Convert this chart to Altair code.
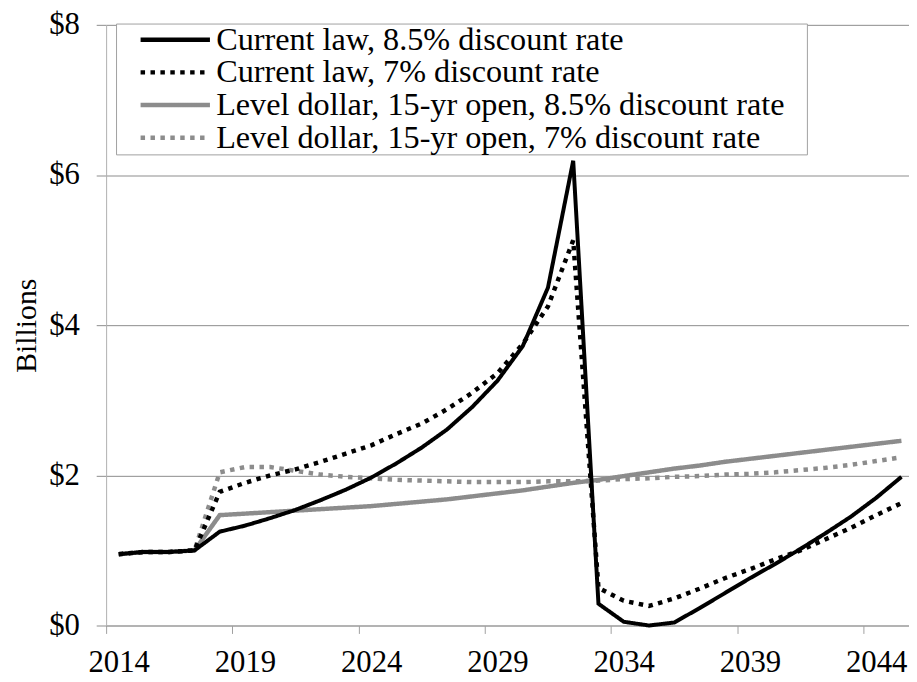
import altair as alt
import pandas as pd

years = list(range(2014, 2046))

series_names = [
    "Current law, 8.5% discount rate",
    "Current law, 7% discount rate",
    "Level dollar, 15-yr open, 8.5% discount rate",
    "Level dollar, 15-yr open, 7% discount rate",
]

current_law_85 = [0.95, 0.98, 0.98, 1.00, 1.25, 1.33, 1.43, 1.54, 1.67, 1.81,
                  1.97, 2.16, 2.37, 2.61, 2.91, 3.26, 3.72, 4.50, 6.19, 0.29,
                  0.05, 0.00, 0.04, 0.23, 0.43, 0.63, 0.82, 1.02, 1.23, 1.45,
                  1.70, 1.98]
current_law_7 = [0.95, 0.98, 0.98, 1.00, 1.78, 1.90, 2.00, 2.08, 2.18, 2.29,
                 2.40, 2.55, 2.69, 2.88, 3.10, 3.36, 3.75, 4.25, 5.13, 0.50,
                 0.33, 0.26, 0.36, 0.49, 0.63, 0.75, 0.88, 1.00, 1.15, 1.30,
                 1.47, 1.63]
level_dollar_85 = [0.95, 0.98, 0.98, 1.00, 1.47, 1.49, 1.51, 1.53, 1.55, 1.57,
                   1.59, 1.62, 1.65, 1.68, 1.72, 1.76, 1.80, 1.85, 1.90, 1.94,
                   1.99, 2.04, 2.09, 2.13, 2.18, 2.22, 2.26, 2.30, 2.34, 2.38,
                   2.42, 2.46]
level_dollar_7 = [0.95, 0.98, 0.98, 1.00, 2.04, 2.11, 2.11, 2.06, 2.01, 1.98,
                  1.96, 1.94, 1.93, 1.92, 1.91, 1.91, 1.91, 1.92, 1.92, 1.93,
                  1.95, 1.96, 1.98, 1.99, 2.01, 2.02, 2.04, 2.07, 2.10, 2.14,
                  2.19, 2.24]

x_tick_values = [2013.5, 2018.5, 2023.5, 2028.5, 2033.5, 2038.5, 2043.5]
y_tick_values = [0, 2, 4, 6, 8]

all_series = [current_law_85, current_law_7, level_dollar_85, level_dollar_7]
rows = []
for name, vals in zip(series_names, all_series):
    for yr, v in zip(years, vals):
        rows.append({"year": yr, "value": v, "series": name})
df = pd.DataFrame(rows)

FONT = "Liberation Serif, Times New Roman, Times, serif"
FS = 31
LFS = 32.5
GRAY = "#8c8c8c"
colors = ["#000000", "#000000", GRAY, GRAY]
dashes = [[1, 0], [4.5, 5.5], [1, 0], [4.5, 5.5]]

legend = alt.Legend(
    title="x", titleOrient="right", titleOpacity=0, titleFontSize=10, titlePadding=16,
    orient="none", legendX=10, legendY=-1.3, padding=0,
    fillColor="white", strokeColor="#a0a0a0", cornerRadius=0,
    symbolType="M-3,0H3", symbolSize=544, symbolStrokeWidth=4.5,
    symbolOffset=43.5, labelOffset=25, rowPadding=-0.3,
    labelFont=FONT, labelFontSize=LFS, labelColor="black", labelLimit=0,
)

x_axis = alt.Axis(
    values=x_tick_values, labelExpr="toString(datum.value + 0.5)",
    labelOffset=12.7, labelFlush=False, grid=False, tickSize=8, labelPadding=14,
    domainColor="#a0a0a0", tickColor="#a0a0a0", title=None,
)
y_axis = alt.Axis(
    values=y_tick_values, labelExpr="'$' + datum.value", grid=True, labelFlush=False,
    gridColor=GRAY, tickSize=10, labelPadding=17, domainColor="#b0b0b0",
    tickColor=GRAY, title="Billions", titlePadding=7, titleFontSize=30,
)

base = alt.Chart(df).encode(
    x=alt.X("year:Q", scale=alt.Scale(domain=[2013.5, 2045.3], nice=False, zero=False), axis=x_axis),
    y=alt.Y("value:Q", scale=alt.Scale(domain=[0, 8], nice=False), axis=y_axis),
    color=alt.Color("series:N", scale=alt.Scale(domain=series_names, range=colors), legend=legend),
    strokeDash=alt.StrokeDash("series:N", scale=alt.Scale(domain=series_names, range=dashes), legend=legend),
)

draw_order = [3, 2, 1, 0]
widths = [4, 4.5, 4.5, 4.5]
layers = []
for i in draw_order:
    layers.append(
        base.transform_filter(alt.datum.series == series_names[i]).mark_line(
            strokeWidth=widths[i], strokeCap="butt"
        )
    )

chart = alt.layer(*layers).properties(
    width=810, height=606,
    autosize=alt.AutoSizeParams(type="none"),
    padding={"left": 99, "top": 14, "right": 0, "bottom": 54},
).configure_view(stroke=None).configure_axis(
    labelFont=FONT, labelFontSize=FS, labelColor="black",
    titleFont=FONT, titleFontSize=FS, titleFontWeight="normal", titleColor="black",
    labelLimit=0,
)

chart.save("out.html", embed_options={"renderer": "svg", "actions": False})
